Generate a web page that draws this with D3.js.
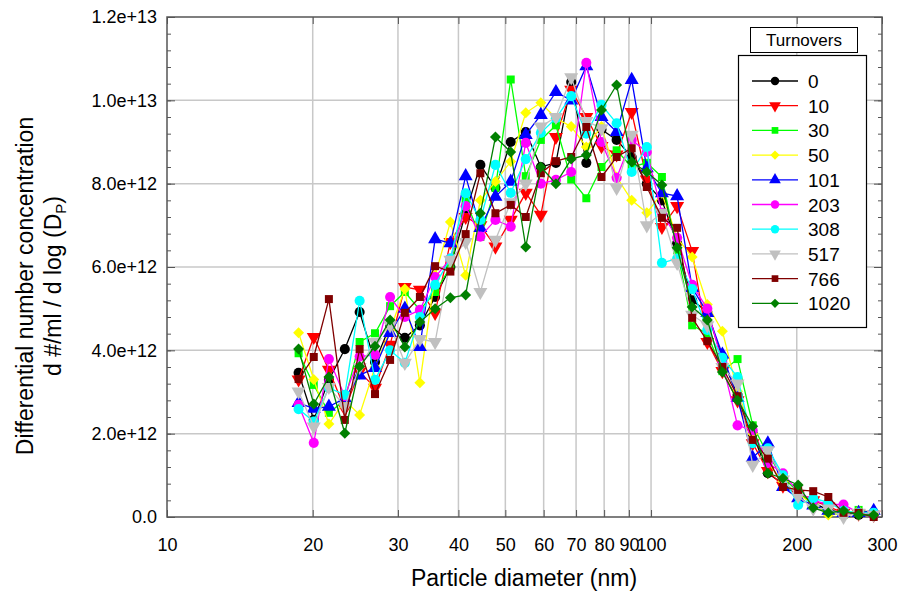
<!DOCTYPE html>
<html>
<head>
<meta charset="utf-8">
<script src="https://cdn.jsdelivr.net/npm/d3@7"></script>
<style>
  body { margin: 0; background: #fff; }
  text { font-family: Arial, "Liberation Sans", sans-serif; }
</style>
</head>
<body>
<div id="chart"></div>
<script>
// particle diameters (nm), SMPS channel midpoints
const diameters = [18.7, 20.1, 21.6, 23.3, 25.0, 26.9, 28.9, 31.0, 33.3, 35.8, 38.5, 41.4, 44.4, 47.7,
  51.3, 55.1, 59.2, 63.6, 68.4, 73.5, 79.0, 84.9, 91.2, 98.0, 105.3, 113.2, 121.6, 130.7, 140.4,
  150.9, 162.2, 174.3, 187.3, 201.3, 216.3, 232.4, 249.8, 268.4, 288.4];

const seriesNames = ["0", "10", "30", "50", "101", "203", "308", "517", "766", "1020"];
const seriesColors = ["#000000", "#ff0000", "#00ff00", "#ffff00", "#0000ff", "#ff00ff", "#00ffff", "#c0c0c0", "#800000", "#008000"];
const seriesSymbols = ["circle", "down", "square", "diamond", "up", "circle", "circle", "down", "square", "diamond"];

// values in units of 1e12
const s0 = [3.46, 2.33, 3.29, 4.03, 4.92, 3.72, 4.6, 4.3, 4.6, 5.28, 6.0, 7.3, 8.45, 7.9, 9.0, 9.24, 8.4, 8.5, 10.44, 8.5, 9.3, 9.05, 8.64, 8.0, 7.6, 6.57, 5.2, 4.92, 3.8, 2.93, 2.0, 1.05, 0.8, 0.57, 0.34, 0.17, 0.1, 0.05, 0.05];
const s10 = [3.3, 4.32, 3.53, 2.6, 3.49, 3.1, 4.13, 5.52, 5.45, 4.9, 6.6, 7.2, 7.0, 6.49, 7.13, 7.78, 7.25, 9.12, 10.25, 9.6, 8.9, 8.7, 9.72, 8.1, 6.96, 7.46, 6.38, 4.2, 3.5, 2.8, 1.77, 1.1, 0.75, 0.55, 0.4, 0.25, 0.1, 0.08, 0.05];
const s30 = [3.93, 3.17, 2.5, 2.8, 4.2, 4.41, 5.06, 5.4, 4.97, 5.4, 6.0, 7.6, 6.72, 7.9, 10.5, 8.18, 9.05, 9.4, 8.1, 7.65, 8.4, 8.8, 8.4, 8.5, 8.16, 6.4, 4.6, 4.4, 3.5, 3.79, 2.2, 1.5, 0.95, 0.6, 0.3, 0.1, 0.05, 0.17, 0.1];
const s50 = [4.42, 3.3, 2.23, 2.8, 2.45, 3.6, 4.49, 5.47, 3.22, 5.8, 7.08, 5.8, 7.6, 8.05, 8.53, 9.7, 9.94, 9.57, 9.37, 8.88, 9.37, 8.16, 7.6, 7.3, 7.77, 6.7, 6.24, 5.1, 4.46, 3.02, 2.0, 1.3, 0.85, 0.55, 0.3, 0.05, 0.1, 0.15, 0.05];
const s101 = [2.74, 2.6, 2.65, 2.85, 3.4, 3.58, 4.42, 5.0, 4.08, 6.67, 6.57, 8.18, 6.94, 7.69, 8.05, 9.17, 9.65, 10.2, 10.0, 10.82, 9.6, 9.24, 10.49, 8.37, 7.77, 7.7, 5.5, 4.9, 3.9, 2.86, 1.42, 1.77, 0.72, 0.45, 0.28, 0.15, 0.1, 0.1, 0.15];
const s203 = [2.69, 1.78, 3.79, 2.9, 3.85, 3.89, 5.28, 4.8, 4.97, 5.76, 6.2, 7.46, 6.73, 7.13, 6.97, 8.98, 8.0, 8.09, 8.28, 10.9, 9.0, 8.14, 9.05, 8.76, 7.3, 6.7, 5.57, 5.0, 3.7, 2.2, 2.08, 1.3, 1.05, 0.6, 0.4, 0.3, 0.3, 0.1, 0.05];
const s308 = [2.59, 2.29, 3.1, 2.93, 5.19, 3.29, 4.0, 3.7, 4.8, 5.57, 6.2, 7.77, 7.13, 8.45, 7.78, 8.59, 9.22, 9.57, 10.1, 9.2, 9.89, 9.45, 8.28, 8.88, 6.1, 6.2, 5.47, 4.49, 3.82, 3.36, 1.77, 1.65, 1.0, 0.29, 0.45, 0.35, 0.15, 0.1, 0.1];
const s517 = [3.01, 2.17, 3.12, 2.65, 3.6, 4.2, 4.6, 3.7, 4.27, 4.2, 6.17, 6.6, 5.4, 6.65, 7.55, 8.0, 9.37, 9.6, 10.55, 9.5, 9.33, 7.9, 9.17, 7.0, 7.3, 6.1, 4.85, 4.6, 3.6, 3.2, 1.25, 1.6, 0.9, 0.5, 0.2, 0.2, 0.0, 0.1, 0.05];
const s766 = [3.31, 3.84, 5.23, 2.33, 4.03, 2.95, 3.77, 4.9, 5.28, 6.02, 5.89, 6.79, 8.25, 7.29, 7.49, 7.2, 8.25, 8.54, 8.64, 9.36, 8.16, 8.64, 8.85, 7.92, 7.18, 6.94, 4.78, 4.22, 3.6, 2.9, 1.85, 1.4, 0.72, 0.65, 0.62, 0.48, 0.1, 0.1, 0.0];
const s1020 = [4.03, 2.71, 3.36, 2.01, 3.61, 4.1, 4.73, 4.08, 4.68, 5.0, 5.26, 5.33, 7.29, 9.12, 8.76, 6.48, 8.4, 8.0, 8.59, 8.69, 9.77, 10.37, 8.52, 8.28, 7.97, 6.46, 5.04, 4.73, 3.48, 2.8, 2.18, 1.05, 0.93, 0.77, 0.22, 0.1, 0.15, 0.05, 0.05];
const seriesValues = [s0, s10, s30, s50, s101, s203, s308, s517, s766, s1020];

const xTicks = [10, 20, 30, 40, 50, 60, 70, 80, 90, 100, 200, 300];
const yTicks = [0, 2e12, 4e12, 6e12, 8e12, 1e13, 1.2e13];
const yTickLabels = ["0.0", "2.0e+12", "4.0e+12", "6.0e+12", "8.0e+12", "1.0e+13", "1.2e+13"];

const width = 899, height = 592;
const margin = { top: 17, right: 17, bottom: 75, left: 167 };
const innerWidth = width - margin.left - margin.right;
const innerHeight = height - margin.top - margin.bottom;

const svg = d3.select("#chart").append("svg")
  .attr("width", width)
  .attr("height", height);

const g = svg.append("g")
  .attr("transform", `translate(${margin.left},${margin.top})`);

const x = d3.scaleLog().domain([10, 300]).range([0, innerWidth]);
const y = d3.scaleLinear().domain([0, 1.2e13]).range([innerHeight, 0]);

// grid
g.append("g").selectAll("line")
  .data(xTicks.filter(d => d > 10 && d < 300))
  .enter().append("line")
  .attr("x1", d => x(d)).attr("x2", d => x(d))
  .attr("y1", 0).attr("y2", innerHeight)
  .attr("stroke", "#c8c8c8").attr("stroke-width", 1.5);

g.append("g").selectAll("line")
  .data(yTicks.slice(1, -1))
  .enter().append("line")
  .attr("x1", 0).attr("x2", innerWidth)
  .attr("y1", d => y(d)).attr("y2", d => y(d))
  .attr("stroke", "#c8c8c8").attr("stroke-width", 1.5);

// axes (ticks point inward)
const axisColor = "#555";
const minorY = d3.range(0, 1.2e13 + 1, 0.4e12);

function styleAxis(sel) {
  sel.select(".domain").remove();
  sel.selectAll("line").attr("stroke", axisColor).attr("stroke-width", 1);
  sel.selectAll("text").attr("fill", "#000").attr("font-size", "18px");
}
function noLabels(sel) {
  sel.selectAll("text").remove();
}

g.append("g")
  .attr("transform", `translate(0,${innerHeight})`)
  .call(d3.axisBottom(x).tickValues(xTicks).tickFormat(d => d).tickSizeInner(-7).tickSizeOuter(0).tickPadding(21))
  .call(styleAxis);

g.append("g")
  .call(d3.axisTop(x).tickValues(xTicks).tickSizeInner(-7).tickSizeOuter(0))
  .call(styleAxis).call(noLabels);

g.append("g")
  .call(d3.axisLeft(y).tickValues(minorY).tickSizeInner(-4).tickSizeOuter(0))
  .call(styleAxis).call(noLabels);

g.append("g")
  .call(d3.axisLeft(y).tickValues(yTicks).tickFormat((d, i) => yTickLabels[i]).tickSizeInner(-8).tickSizeOuter(0).tickPadding(10))
  .call(styleAxis);

g.append("g")
  .attr("transform", `translate(${innerWidth},0)`)
  .call(d3.axisRight(y).tickValues(minorY).tickSizeInner(-4).tickSizeOuter(0))
  .call(styleAxis).call(noLabels);

g.append("g")
  .attr("transform", `translate(${innerWidth},0)`)
  .call(d3.axisRight(y).tickValues(yTicks).tickSizeInner(-8).tickSizeOuter(0))
  .call(styleAxis).call(noLabels);

g.append("rect")
  .attr("width", innerWidth).attr("height", innerHeight)
  .attr("fill", "none").attr("stroke", axisColor).attr("stroke-width", 1.5);

// symbols
const symbolTypes = {
  circle: { type: d3.symbolCircle, size: 80, rot: 0 },
  square: { type: d3.symbolSquare, size: 64, rot: 0 },
  diamond: { type: d3.symbolSquare, size: 60, rot: 45 },
  up: { type: d3.symbolTriangle, size: 85, rot: 0 },
  down: { type: d3.symbolTriangle, size: 85, rot: 180 }
};

const line = d3.line()
  .x((d, i) => x(diameters[i]))
  .y(d => y(d * 1e12));

seriesValues.forEach((vals, si) => {
  const color = seriesColors[si];
  const sym = symbolTypes[seriesSymbols[si]];
  const sg = g.append("g").attr("class", "series");
  sg.append("path")
    .datum(vals)
    .attr("d", line)
    .attr("fill", "none")
    .attr("stroke", color)
    .attr("stroke-width", 1.3);
  sg.selectAll("path.pt")
    .data(vals)
    .enter().append("path")
    .attr("class", "pt")
    .attr("d", d3.symbol().type(sym.type).size(sym.size))
    .attr("transform", (d, i) => `translate(${x(diameters[i])},${y(d * 1e12)}) rotate(${sym.rot})`)
    .attr("fill", color);
});

// axis titles
svg.append("text")
  .attr("x", 524)
  .attr("y", 586)
  .attr("text-anchor", "middle")
  .attr("font-size", "23px")
  .text("Particle diameter (nm)");

const yTitle = svg.append("g")
  .attr("transform", `translate(0,286) rotate(-90)`);
yTitle.append("text")
  .attr("x", 0).attr("y", 33)
  .attr("text-anchor", "middle")
  .attr("font-size", "23px")
  .text("Differential number concentration");
const t2 = yTitle.append("text")
  .attr("x", 0).attr("y", 61)
  .attr("text-anchor", "middle")
  .attr("font-size", "23px");
t2.append("tspan").text("d #/ml / d log (D");
t2.append("tspan").attr("font-size", "15px").attr("dy", 5).text("P");
t2.append("tspan").attr("dy", -5).text(")");

// legend
const legend = svg.append("g");
legend.append("rect")
  .attr("x", 750.5).attr("y", 27.5).attr("width", 107).attr("height", 25)
  .attr("fill", "#fff").attr("stroke", "#000").attr("stroke-width", 1);
legend.append("text")
  .attr("x", 804).attr("y", 46)
  .attr("text-anchor", "middle")
  .attr("font-size", "17px")
  .text("Turnovers");
legend.append("rect")
  .attr("x", 738.5).attr("y", 55.5).attr("width", 128).attr("height", 272)
  .attr("fill", "#fff").attr("stroke", "#000").attr("stroke-width", 1.2);

seriesNames.forEach((name, i) => {
  const ly = 81 + i * 24.7;
  const sym = symbolTypes[seriesSymbols[i]];
  legend.append("line")
    .attr("x1", 752).attr("x2", 798)
    .attr("y1", ly).attr("y2", ly)
    .attr("stroke", seriesColors[i]).attr("stroke-width", 1.3);
  legend.append("path")
    .attr("d", d3.symbol().type(sym.type).size(sym.size * 0.7))
    .attr("transform", `translate(775,${ly}) rotate(${sym.rot})`)
    .attr("fill", seriesColors[i]);
  legend.append("text")
    .attr("x", 808).attr("y", ly + 7)
    .attr("font-size", "19px")
    .text(name);
});
</script>
</body>
</html>
